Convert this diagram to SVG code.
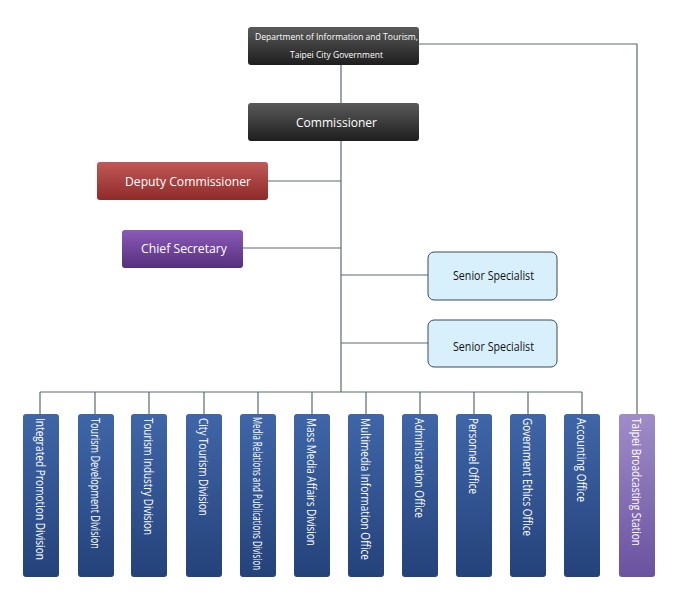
<svg xmlns="http://www.w3.org/2000/svg" width="680" height="600" viewBox="0 0 680 600">
<defs>
<linearGradient id="gd" x1="0" y1="0" x2="0" y2="1"><stop offset="0" stop-color="#5a5a5a"/><stop offset="1" stop-color="#1e1e1e"/></linearGradient>
<linearGradient id="gr" x1="0" y1="0" x2="0" y2="1"><stop offset="0" stop-color="#c05a58"/><stop offset="1" stop-color="#8e2a28"/></linearGradient>
<linearGradient id="gp" x1="0" y1="0" x2="0" y2="1"><stop offset="0" stop-color="#8a5ab8"/><stop offset="1" stop-color="#55307c"/></linearGradient>
<linearGradient id="gb" x1="0" y1="0" x2="0" y2="1"><stop offset="0" stop-color="#3f66a8"/><stop offset="1" stop-color="#24427a"/></linearGradient>
<linearGradient id="gv" x1="0" y1="0" x2="0" y2="1"><stop offset="0" stop-color="#a08cc8"/><stop offset="1" stop-color="#6a52a0"/></linearGradient>
</defs>
<style>
text{font-family:"Open Sans","Liberation Sans",sans-serif;fill:#fff}
.c line,.c polyline{stroke:#5a6a72;stroke-width:1.2;fill:none}
.sp rect{fill:#d8f0fb;stroke:#3a4a55;stroke-width:1}
.sp text{fill:#111;font-size:12px}
.v text{font-size:12px}
</style>
<g class="c">
<line x1="341" y1="65" x2="341" y2="103"/>
<line x1="341" y1="141" x2="341" y2="392"/>
<line x1="268" y1="181" x2="341" y2="181"/>
<line x1="243" y1="248" x2="341" y2="248"/>
<line x1="341" y1="275" x2="428" y2="275"/>
<line x1="341" y1="343" x2="428" y2="343"/>
<polyline points="419,44 637,44 637,414"/>
<line x1="40" y1="392" x2="582" y2="392"/>
<line x1="40" y1="392" x2="40" y2="414"/><line x1="95" y1="392" x2="95" y2="414"/><line x1="149" y1="392" x2="149" y2="414"/><line x1="204" y1="392" x2="204" y2="414"/><line x1="258" y1="392" x2="258" y2="414"/><line x1="312" y1="392" x2="312" y2="414"/><line x1="366" y1="392" x2="366" y2="414"/><line x1="420" y1="392" x2="420" y2="414"/><line x1="474" y1="392" x2="474" y2="414"/><line x1="528" y1="392" x2="528" y2="414"/><line x1="582" y1="392" x2="582" y2="414"/>
</g>
<g id="dept"><rect x="248" y="27" width="171" height="38" rx="3" fill="url(#gd)"/><text x="255" y="40" font-size="9" textLength="163" lengthAdjust="spacingAndGlyphs">Department of Information and Tourism,</text><text x="290" y="58" font-size="9" textLength="93" lengthAdjust="spacingAndGlyphs">Taipei City Government</text></g>
<g id="commissioner"><rect x="248" y="103" width="171" height="38" rx="3" fill="url(#gd)"/><text x="296" y="127" font-size="13.5" textLength="81" lengthAdjust="spacingAndGlyphs">Commissioner</text></g>
<g id="deputy"><rect x="97" y="162" width="171" height="38" rx="3" fill="url(#gr)"/><text x="125" y="186" font-size="13.5" textLength="126" lengthAdjust="spacingAndGlyphs">Deputy Commissioner</text></g>
<g id="chief"><rect x="122" y="230" width="121" height="38" rx="3" fill="url(#gp)"/><text x="141" y="253" font-size="13.5" textLength="86" lengthAdjust="spacingAndGlyphs">Chief Secretary</text></g>
<g id="senior1" class="sp"><rect x="428" y="252" width="129" height="48" rx="6"/><text x="453" y="280" textLength="81" lengthAdjust="spacingAndGlyphs">Senior Specialist</text></g>
<g id="senior2" class="sp"><rect x="428" y="320" width="129" height="47" rx="6"/><text x="453" y="351" textLength="81" lengthAdjust="spacingAndGlyphs">Senior Specialist</text></g>
<g class="v">
<g id="d1"><rect x="23" y="414" width="36" height="163" rx="3" fill="url(#gb)"/><text transform="translate(36,418) rotate(90)" textLength="142" lengthAdjust="spacingAndGlyphs">Integrated Promotion Division</text></g>
<g id="d2"><rect x="78" y="414" width="36" height="163" rx="3" fill="url(#gb)"/><text transform="translate(91,418) rotate(90)" textLength="131" lengthAdjust="spacingAndGlyphs">Tourism Development Division</text></g>
<g id="d3"><rect x="131" y="414" width="36" height="163" rx="3" fill="url(#gb)"/><text transform="translate(144,418) rotate(90)" textLength="117" lengthAdjust="spacingAndGlyphs">Tourism Industry Division</text></g>
<g id="d4"><rect x="186" y="414" width="36" height="163" rx="3" fill="url(#gb)"/><text transform="translate(199,418) rotate(90)" textLength="98" lengthAdjust="spacingAndGlyphs">City Tourism Division</text></g>
<g id="d5"><rect x="240" y="414" width="36" height="163" rx="3" fill="url(#gb)"/><text transform="translate(253,417) rotate(90)" font-size="8.5" textLength="153" lengthAdjust="spacingAndGlyphs">Media Relations and Publications Division</text></g>
<g id="d6"><rect x="294" y="414" width="36" height="163" rx="3" fill="url(#gb)"/><text transform="translate(307,418) rotate(90)" textLength="128" lengthAdjust="spacingAndGlyphs">Mass Media Affairs Division</text></g>
<g id="d7"><rect x="348" y="414" width="36" height="163" rx="3" fill="url(#gb)"/><text transform="translate(361,418) rotate(90)" textLength="142" lengthAdjust="spacingAndGlyphs">Multimedia Information Office</text></g>
<g id="d8"><rect x="402" y="414" width="36" height="163" rx="3" fill="url(#gb)"/><text transform="translate(415,418) rotate(90)" textLength="100" lengthAdjust="spacingAndGlyphs">Administration Office</text></g>
<g id="d9"><rect x="456" y="414" width="36" height="163" rx="3" fill="url(#gb)"/><text transform="translate(469,418) rotate(90)" textLength="76" lengthAdjust="spacingAndGlyphs">Personnel Office</text></g>
<g id="d10"><rect x="510" y="414" width="36" height="163" rx="3" fill="url(#gb)"/><text transform="translate(523,418) rotate(90)" textLength="118" lengthAdjust="spacingAndGlyphs">Government Ethics Office</text></g>
<g id="d11"><rect x="564" y="414" width="36" height="163" rx="3" fill="url(#gb)"/><text transform="translate(577,418) rotate(90)" textLength="84" lengthAdjust="spacingAndGlyphs">Accounting Office</text></g>
<g id="station"><rect x="619" y="414" width="36" height="163" rx="3" fill="url(#gv)"/><text transform="translate(632,418) rotate(90)" textLength="128" lengthAdjust="spacingAndGlyphs">Taipei Broadcasting Station</text></g>
</g>
</svg>
